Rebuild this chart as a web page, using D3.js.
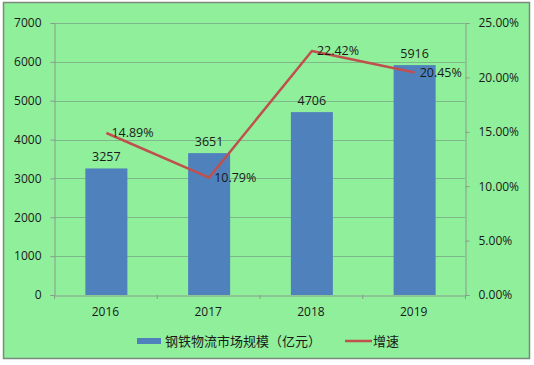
<!DOCTYPE html>
<html><head><meta charset="utf-8">
<script src="https://cdn.jsdelivr.net/npm/d3@7"></script>
<style>body{margin:0;background:#fff}svg{display:block}text{font-family:"Open Sans","Noto Sans","Noto Sans CJK SC",sans-serif;fill:#1a1a1a}</style>
</head><body><svg id="c" width="534" height="365"></svg>
<script>
const categories = ["2016","2017","2018","2019"];
const scaleValues = [3257,3651,4706,5916];
const growthValues = [14.89,10.79,22.42,20.45];
const leftTicks = [0,1000,2000,3000,4000,5000,6000,7000];
const rightTicks = [0,5,10,15,20,25];
const seriesNames = ["钢铁物流市场规模（亿元）","增速"];

const svg = d3.select("#c");
svg.append("rect").attr("x",3.5).attr("y",2.5).attr("width",526).attr("height",356)
  .attr("fill","#8FEF9B").attr("stroke","#7a8a7c").attr("stroke-width",1.5);

const L=54,R=465,T=23,B=295;
const x = d3.scaleBand().domain(categories).range([L,R]);
const y = d3.scaleLinear().domain([0,7000]).range([B,T]);
const y2 = d3.scaleLinear().domain([0,25]).range([B,T]);

// gridlines
svg.append("g").selectAll("line").data(leftTicks.slice(1)).join("line")
  .attr("x1",L).attr("x2",R).attr("y1",d=>Math.round(y(d))+0.5).attr("y2",d=>Math.round(y(d))+0.5)
  .attr("stroke","#7fb88a").attr("stroke-width",1);

// bars
const bw = 42;
svg.append("g").selectAll("rect").data(categories).join("rect")
  .attr("x",(d)=>x(d)+x.bandwidth()/2-bw/2+1).attr("width",bw)
  .attr("y",(d,i)=>y(scaleValues[i])).attr("height",(d,i)=>B-y(scaleValues[i]))
  .attr("fill","#4F81BD");

// left axis
const ga = svg.append("g").attr("transform",`translate(${L+0.5},0)`)
  .call(d3.axisLeft(y).tickValues(leftTicks).tickSize(4).tickPadding(9).tickFormat(d3.format("d")));
// right axis
const gb = svg.append("g").attr("transform",`translate(${R+0.5},0)`)
  .call(d3.axisRight(y2).tickValues(rightTicks).tickSize(4).tickPadding(9).tickFormat(d=>d.toFixed(2)+"%"));
// bottom axis
const gc = svg.append("g").attr("transform",`translate(0,${B+0.5})`)
  .call(d3.axisBottom(x).tickSize(0).tickPadding(12));
[ga,gb,gc].forEach(g=>{
  g.select(".domain").attr("stroke","#8a9a8c");
  g.selectAll(".tick line").attr("stroke","#8a9a8c");
  g.selectAll("text").attr("font-size","12px").attr("fill","#1a1a1a");
});
// category separator ticks
svg.append("g").selectAll("line").data(categories.concat(["end"])).join("line")
  .attr("x1",(d,i)=>L+i*x.bandwidth()+0.5).attr("x2",(d,i)=>L+i*x.bandwidth()+0.5)
  .attr("y1",B).attr("y2",B+4).attr("stroke","#8a9a8c");

// line
const line = d3.line().x((d,i)=>x(categories[i])+x.bandwidth()/2+1).y(d=>y2(d));
svg.append("path").datum(growthValues).attr("d",line).attr("fill","none")
  .attr("stroke","#C0504D").attr("stroke-width",2.5).attr("stroke-linejoin","round");

// bar labels
svg.append("g").selectAll("text").data(scaleValues).join("text")
  .attr("x",(d,i)=>x(categories[i])+x.bandwidth()/2+1).attr("y",d=>y(d)-7)
  .attr("text-anchor","middle").attr("font-size","12.5px").text(d=>d);
// line labels
svg.append("g").selectAll("text").data(growthValues).join("text")
  .attr("x",(d,i)=>x(categories[i])+x.bandwidth()/2+6).attr("y",d=>y2(d)+4)
  .attr("font-size","12.5px").text(d=>d.toFixed(2)+"%");

// legend
const lg = svg.append("g");
lg.append("rect").attr("x",137).attr("y",338).attr("width",24).attr("height",6).attr("fill","#4F81BD");
lg.append("text").attr("x",165).attr("y",346).attr("font-size","13px").text(seriesNames[0]);
lg.append("line").attr("x1",345).attr("x2",372).attr("y1",341).attr("y2",341).attr("stroke","#C0504D").attr("stroke-width",2.5);
lg.append("text").attr("x",373).attr("y",346).attr("font-size","13px").text(seriesNames[1]);
</script></body></html>
